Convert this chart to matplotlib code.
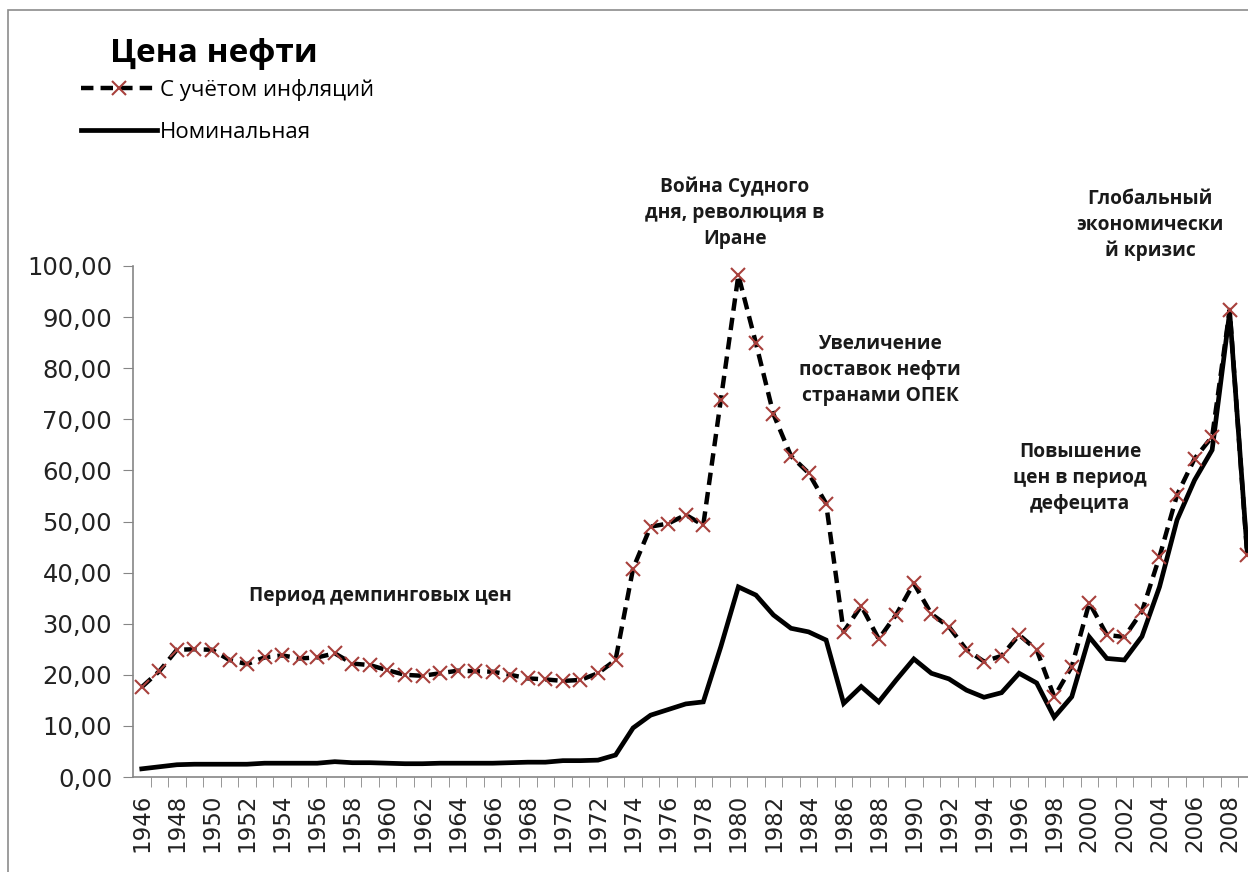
import matplotlib
matplotlib.use("Agg")
import matplotlib.pyplot as plt
from matplotlib.patches import Rectangle
from matplotlib.ticker import FuncFormatter, MultipleLocator

years = list(range(1946, 2010))

# цена с учётом инфляции
real_price = [17.6, 20.7, 24.9, 25.0, 24.9, 22.9, 22.1, 23.4, 23.8, 23.2,
              23.4, 24.2, 22.2, 21.9, 20.9, 20.0, 19.8, 20.3, 20.8, 20.7,
              20.6, 20.0, 19.3, 19.1, 18.8, 19.0, 20.3, 22.9, 40.8, 49.0,
              49.6, 51.3, 49.3, 73.8, 98.2, 84.9, 71.0, 62.8, 59.5, 53.5,
              28.4, 33.5, 27.0, 31.8, 37.9, 31.9, 29.4, 24.9, 22.6, 23.7,
              27.8, 24.9, 15.7, 21.6, 34.1, 27.8, 27.4, 32.4, 43.1, 55.2,
              62.3, 66.6, 91.4, 43.4]

# номинальная цена
nominal_price = [1.6, 2.0, 2.4, 2.5, 2.5, 2.5, 2.5, 2.7, 2.7, 2.7,
                 2.7, 3.0, 2.8, 2.8, 2.7, 2.6, 2.6, 2.7, 2.7, 2.7,
                 2.7, 2.8, 2.9, 2.9, 3.2, 3.2, 3.3, 4.3, 9.6, 12.1,
                 13.2, 14.3, 14.7, 25.5, 37.2, 35.6, 31.7, 29.1, 28.4, 26.8,
                 14.4, 17.7, 14.7, 19.0, 23.1, 20.3, 19.2, 17.0, 15.6, 16.5,
                 20.3, 18.4, 11.7, 15.7, 27.4, 23.2, 22.9, 27.5, 37.2, 50.3,
                 58.1, 64.0, 91.0, 44.0]

W, H = 1248, 872
fig = plt.figure(figsize=(W / 100, H / 100), dpi=100)

# рамка диаграммы
fig.patches.append(Rectangle((8 / W, -0.1), 1.2, (H - 10) / H + 0.1,
                             transform=fig.transFigure, fill=False,
                             edgecolor="#8c8c8c", linewidth=1.2))

ax = fig.add_axes([133 / W, (H - 777) / H, (1256 - 133) / W, (777 - 266) / H])

ax.plot(years, real_price, color="black", lw=3.2, linestyle=(0, (2.8, 1.6)),
        marker="x", markersize=10, markeredgewidth=1.5,
        markeredgecolor="#a8403c", label="С учётом инфляций", zorder=3)
ax.plot(years, nominal_price, color="black", lw=3.4,
        solid_joinstyle="miter", label="Номинальная", zorder=2)

ax.set_xlim(1945.5, 2009.5)
ax.set_ylim(0, 100)

ax.yaxis.set_major_locator(MultipleLocator(10))
ax.yaxis.set_major_formatter(FuncFormatter(lambda v, p: f"{v:.2f}".replace(".", ",")))
ax.set_xticks(years[::2])
ax.set_xticklabels([str(y) for y in years[::2]], rotation=90)
ax.set_xticks([y + 0.5 for y in years], minor=True)

for s in ["top", "right"]:
    ax.spines[s].set_visible(False)
for s in ["left", "bottom"]:
    ax.spines[s].set_color("#868686")
    ax.spines[s].set_linewidth(1.2)

ax.tick_params(axis="y", direction="out", length=7, color="#868686",
               labelsize=17.5, pad=8, labelcolor="#222222")
ax.tick_params(axis="x", which="major", length=0, labelsize=16.5, pad=12,
               labelcolor="#222222")
ax.tick_params(axis="x", which="minor", direction="out", length=7, color="#868686")
for lbl in ax.get_xticklabels() + ax.get_yticklabels():
    lbl.set_family("DejaVu Sans")

fig.text(110 / W, 1 - 54 / H, "Цена нефти", fontsize=24, fontweight="bold",
         family="Open Sans", va="center", ha="left")

ax.legend(loc="upper left", bbox_to_anchor=(70 / W, 1 - 68 / H),
          bbox_transform=fig.transFigure, frameon=False,
          prop={"family": "Open Sans", "size": 16},
          handlelength=3.4, handletextpad=0.15, labelspacing=0.95,
          borderpad=0, numpoints=1)

notes = [
    ("Период демпинговых цен", 380, 596),
    ("Война Судного\nдня, революция в\nИране", 735, 213),
    ("Увеличение\nпоставок нефти\nстранами ОПЕК", 880, 370),
    ("Повышение\nцен в период\nдефецита", 1080, 478),
    ("Глобальный\nэкономически\nй кризис", 1150, 225),
]
for txt, x, y in notes:
    fig.text(x / W, 1 - y / H, txt, fontsize=13.8, fontweight="bold",
             family="Open Sans", color="#1a1a1a", ha="center", va="center",
             linespacing=1.4)

fig.savefig("out.png", dpi=100)
